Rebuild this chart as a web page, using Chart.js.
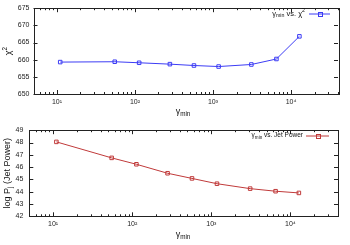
<!DOCTYPE html>
<html><head><meta charset="utf-8">
<script src="https://cdn.jsdelivr.net/npm/chart.js@4/dist/chart.umd.min.js"></script>
<style>
html,body{margin:0;padding:0;background:#fff;}
#wrap{position:relative;width:350px;height:245px;}
canvas{position:absolute;left:0;}
</style></head>
<body><div id="wrap">
<canvas id="c1" width="350" height="120" style="top:0"></canvas>
<canvas id="c2" width="350" height="125" style="top:120px"></canvas>
</div>
<script>
const gammaMin = [11, 55, 113, 280, 570, 1180, 3100, 6500, 12800];
const chi2 = [659.3, 659.4, 659.1, 658.7, 658.3, 658.0, 658.6, 660.2, 666.8];
const jetPower = [48.05, 46.75, 46.23, 45.5, 45.08, 44.65, 44.25, 44.04, 43.9];
const xMajorTicks = [10, 100, 1000, 10000];
const xTickLabels = ['10\u00B9', '10\u00B2', '10\u00B3', '10\u2074'];
const chi2Ticks = [650, 655, 660, 665, 670, 675];
const jetTicks = [42, 43, 44, 45, 46, 47, 48, 49];

const FONT = "'Liberation Sans', Arial, sans-serif";
const frameColor = '#222';

function framePlugin(opts) {
  return {
    id: 'frame' + opts.id,
    afterDraw(chart) {
      const ctx = chart.ctx, a = chart.chartArea;
      const xs = chart.scales.x, ys = chart.scales.y;
      ctx.save();
      ctx.strokeStyle = frameColor;
      ctx.lineWidth = 1;
      ctx.strokeRect(Math.round(a.left) + 0.5, Math.round(a.top) + 0.5, Math.round(a.right - a.left), Math.round(a.bottom - a.top));
      ctx.beginPath();
      for (let d = 0; d <= 5; d++) {
        for (let k = 1; k <= 9; k++) {
          const v = k * Math.pow(10, d);
          if (v < xs.min || v > xs.max) continue;
          const px = Math.round(xs.getPixelForValue(v)) + 0.5;
          const len = k === 1 ? 4 : 2;
          ctx.moveTo(px, a.bottom); ctx.lineTo(px, a.bottom - len);
          ctx.moveTo(px, a.top); ctx.lineTo(px, a.top + len);
        }
      }
      opts.yTicks.forEach(v => {
        const py = Math.round(ys.getPixelForValue(v)) + 0.5;
        ctx.moveTo(a.left, py); ctx.lineTo(a.left + 4, py);
        ctx.moveTo(a.right, py); ctx.lineTo(a.right - 4, py);
      });
      ctx.stroke();

      ctx.fillStyle = '#111';
      ctx.save();
      ctx.translate(opts.yTitleX, (a.top + a.bottom) / 2);
      ctx.rotate(-Math.PI / 2);
      ctx.textBaseline = 'middle';
      drawRich(ctx, opts.yTitle, 0, 0, 9, 'center');
      ctx.restore();

      ctx.textBaseline = 'middle';
      drawRich(ctx, [['\u03B3', 0], ['min', 1]], opts.xTitleX, opts.xTitleY, 9, 'center');

      const ly = opts.legendY;
      drawRich(ctx, opts.legendText, opts.legendTextRight, ly, opts.legendSize, 'right');
      ctx.strokeStyle = opts.color;
      ctx.lineWidth = 1;
      ctx.beginPath();
      ctx.moveTo(opts.legendLine[0], ly + 0.5); ctx.lineTo(opts.legendLine[1], ly + 0.5);
      ctx.stroke();
      const mx = (opts.legendLine[0] + opts.legendLine[1]) / 2;
      ctx.strokeRect(Math.round(mx) - 2 + 0.5, Math.round(ly) - 2 + 0.5, 4, 4);
      ctx.restore();
    }
  };
}

function drawRich(ctx, parts, x, y, size, align) {
  const measure = p => {
    const s = p[1] ? size * 0.7 : size;
    ctx.font = s + 'px ' + FONT;
    return ctx.measureText(p[0]).width;
  };
  const total = parts.reduce((t, p) => t + measure(p), 0);
  let cx = align === 'center' ? x - total / 2 : align === 'right' ? x - total : x;
  ctx.textAlign = 'left';
  parts.forEach(p => {
    const s = p[1] ? size * 0.7 : size;
    ctx.font = s + 'px ' + FONT;
    const dy = p[1] === 1 ? size * 0.3 : p[1] === 2 ? -size * 0.45 : 0;
    ctx.fillText(p[0], cx, y + dy);
    cx += ctx.measureText(p[0]).width;
  });
}

function makeChart(id, values, color, yMin, yMax, yTicks, geom, extra) {
  const pts = gammaMin.map((g, i) => ({ x: g, y: values[i] }));
  return new Chart(document.getElementById(id), {
    type: 'line',
    data: { datasets: [{
      data: pts, borderColor: color, backgroundColor: 'rgba(0,0,0,0)',
      borderWidth: 1, pointStyle: 'rect', pointRadius: 2.5, pointBorderWidth: 1,
      pointBorderColor: color, pointBackgroundColor: 'rgba(0,0,0,0)', tension: 0
    }]},
    options: {
      responsive: false, animation: false, devicePixelRatio: 1,
      layout: { padding: { top: geom.top, right: geom.right, left: 0, bottom: 0 } },
      plugins: { legend: { display: false }, tooltip: { enabled: false } },
      scales: {
        x: {
          type: 'logarithmic', min: 5, max: 40000,
          grid: { display: false, drawTicks: false }, border: { display: false },
          afterBuildTicks: s => { s.ticks = xMajorTicks.map(v => ({ value: v })); },
          afterFit: s => { s.height = geom.xh; },
          ticks: { autoSkip: false, maxRotation: 0, padding: 4, color: '#222',
            font: { family: FONT, size: 7 },
            callback: (v) => { const i = xMajorTicks.indexOf(v); return i >= 0 ? xTickLabels[i] : ''; } }
        },
        y: {
          min: yMin, max: yMax,
          grid: { display: false, drawTicks: false }, border: { display: false },
          afterBuildTicks: s => { s.ticks = yTicks.map(v => ({ value: v })); },
          afterFit: s => { s.width = geom.yw; },
          ticks: { padding: geom.ypad, color: '#222', font: { family: FONT, size: 7 } }
        }
      }
    },
    plugins: [framePlugin(Object.assign({ id: id, yTicks: yTicks, color: color }, extra))]
  });
}

makeChart('c1', chi2, '#3c3cf5', 650, 675, chi2Ticks,
  { top: 6, right: 12, xh: 26, yw: 33.5, ypad: 4 },
  { yTitle: [['\u03C7', 0], ['2', 2]], yTitleX: 9, xTitleX: 183, xTitleY: 112,
    legendText: [['\u03B3', 0], ['min', 1], [' vs. \u03C7', 0], ['2', 2]], legendTextRight: 305, legendY: 13.5, legendSize: 7.5,
    legendLine: [309, 330] });

makeChart('c2', jetPower, '#c03a3a', 42, 49, jetTicks,
  { top: 9.3, right: 12, xh: 28.7, yw: 29.3, ypad: 6 },
  { yTitle: [['log P', 0], ['j', 1], [' (Jet Power)', 0]], yTitleX: 8, xTitleX: 183, xTitleY: 115,
    legendText: [['\u03B3', 0], ['min', 1], [' vs. Jet Power', 0]], legendTextRight: 303, legendY: 15.5, legendSize: 6.5,
    legendLine: [306, 329] });
</script>
</body></html>
